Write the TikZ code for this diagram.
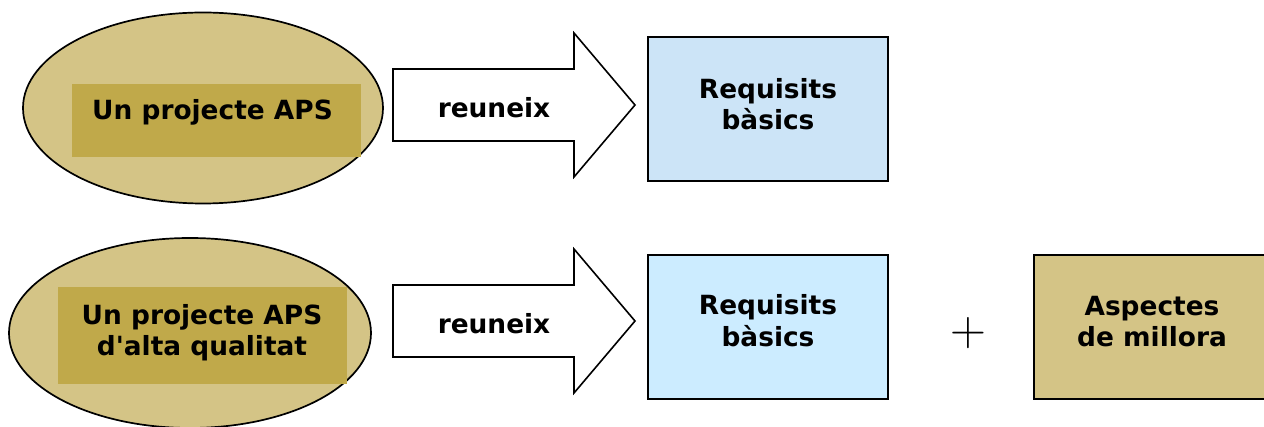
\documentclass[tikz,border=0pt]{standalone}
\usepackage{fontspec}
\setmainfont{DejaVu Sans}
\usetikzlibrary{positioning, shapes.geometric}

\definecolor{ellfill}{RGB}{212,196,134}
\definecolor{boxfill}{RGB}{192,169,74}
\definecolor{skyone}{RGB}{204,228,247}
\definecolor{skytwo}{RGB}{204,236,255}

\begin{document}
\begin{tikzpicture}[
    x=0.5pt, y=-0.5pt,
    projnode/.style={ellipse, draw=black, fill=ellfill, line width=0.85pt, inner sep=0pt},
    labelbox/.style={rectangle, fill=boxfill, inner sep=0pt},
    reqnode/.style={rectangle, draw=black, line width=0.9pt, minimum width=120pt, minimum height=72pt},
    bigarrow/.style={draw=black, fill=white, line width=0.8pt, line join=miter},
    boldtext/.style={font=\fontsize{13.2}{15.7}\selectfont\bfseries, align=center, inner sep=0pt, anchor=base}
    ]
    \useasboundingbox (0,0) rectangle (1264,427);

    % first row
    \node[projnode, minimum width=180pt, minimum height=95.5pt] (proj)     at (203,108)     {};
    \node[labelbox, minimum width=144.5pt, minimum height=36.5pt] (projbox) at (216.5,120.5) {};
    \node[boldtext]                                             (projtext) at (212.5,120)   {Un projecte APS};

    \draw[bigarrow] (393,69) -- (574,69) -- (574,33) -- (635,105) -- (574,177) -- (574,141) -- (393,141) -- cycle;
    \node[boldtext]                 (verb)    at (494,118)   {reuneix};

    \node[reqnode, fill=skyone]     (req)     at (768,109)   {};
    \node[boldtext]                 (reqtext) at (768,130)   {Requisits\\bàsics};

    % second row
    \node[projnode, minimum width=181pt, minimum height=95pt]   (qual)     at (190,333)     {};
    \node[labelbox, minimum width=144.5pt, minimum height=48.5pt] (qualbox) at (202.5,335.5) {};
    \node[boldtext]                                             (qualtext) at (202,356)     {Un projecte APS\\d\textquotesingle alta qualitat};

    \draw[bigarrow] (393,285) -- (574,285) -- (574,249) -- (635,321) -- (574,393) -- (574,357) -- (393,357) -- cycle;
    \node[boldtext]                 (verbtwo)    at (494,334)   {reuneix};

    \node[reqnode, fill=skytwo]     (reqtwo)     [below=36pt of req]    {};
    \node[boldtext]                 (reqtwotext) at (768,346)   {Requisits\\bàsics};

    \node[font=\fontsize{26}{26}\selectfont] (plus) at (968,333) {$+$};

    \node[reqnode, fill=ellfill]    (asp)        [right=72pt of reqtwo] {};
    \node[boldtext]                 (asptext)    at (1152,346.5) {Aspectes\\de millora};
\end{tikzpicture}
\end{document}
